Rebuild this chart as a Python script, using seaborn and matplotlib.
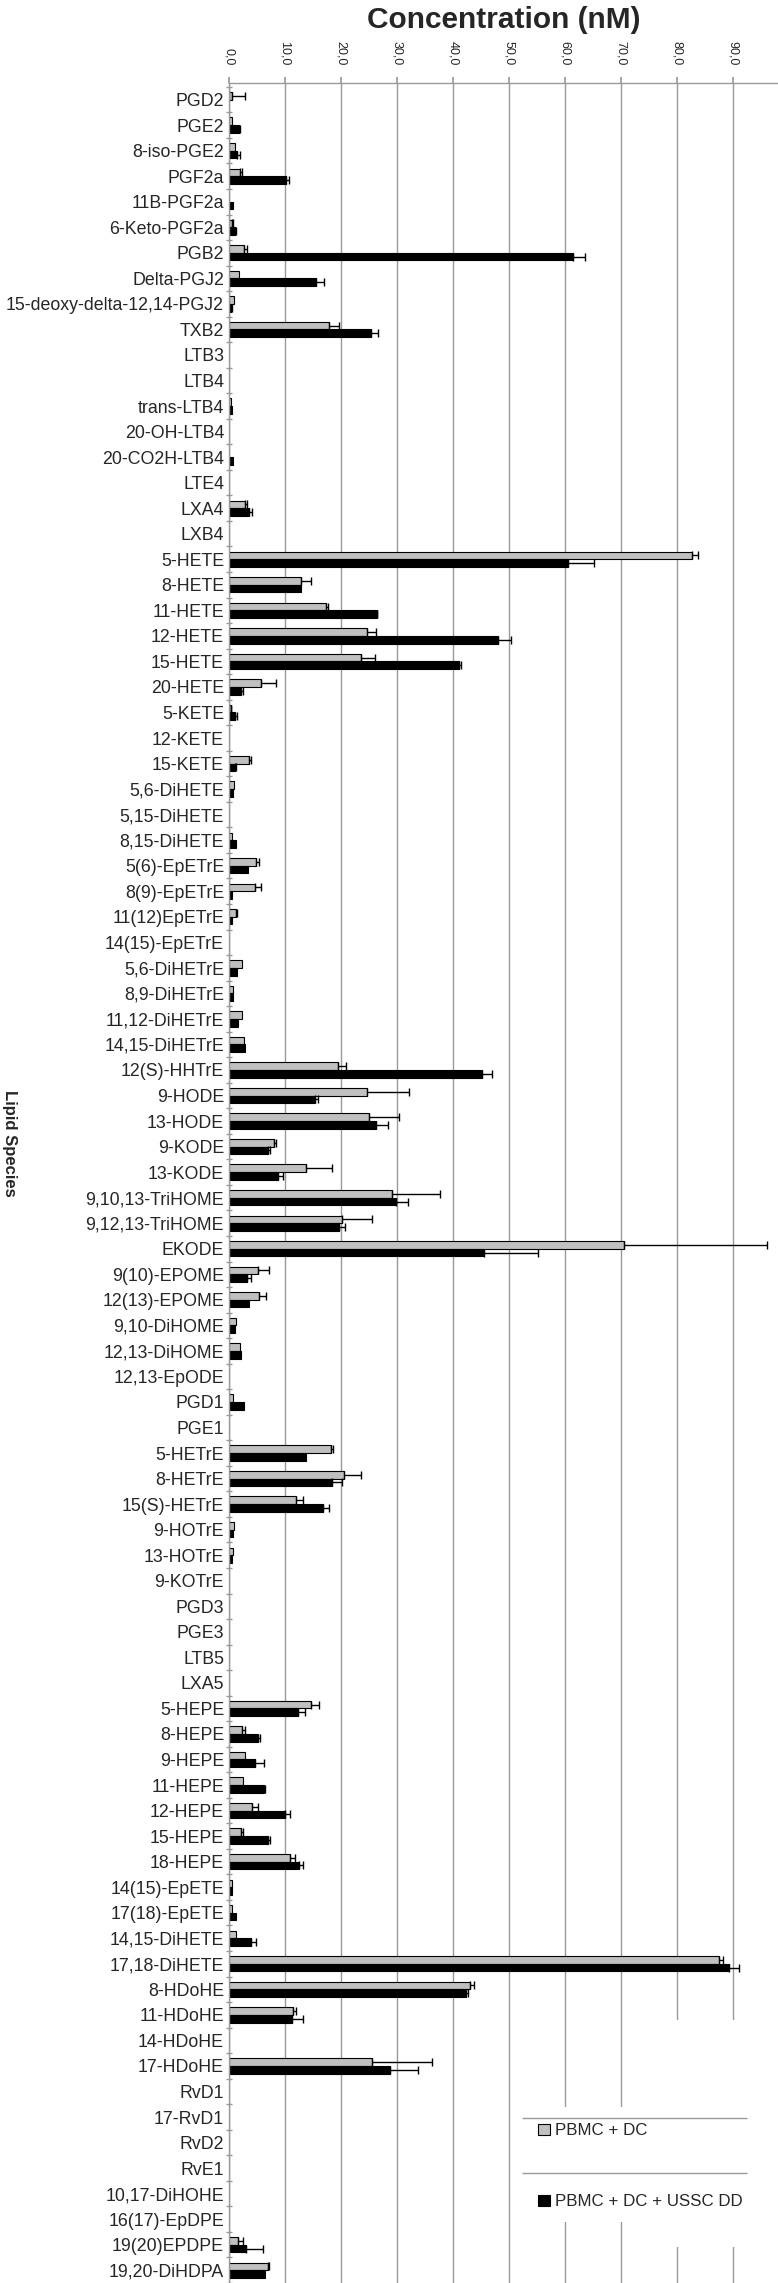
import numpy as np
import pandas as pd
import matplotlib
matplotlib.use("Agg")
import matplotlib.pyplot as plt
import seaborn as sns
from matplotlib.patches import Patch, Rectangle

species = [
    "PGD2", "PGE2", "8-iso-PGE2", "PGF2a", "11B-PGF2a", "6-Keto-PGF2a", "PGB2",
    "Delta-PGJ2", "15-deoxy-delta-12,14-PGJ2", "TXB2", "LTB3", "LTB4", "trans-LTB4",
    "20-OH-LTB4", "20-CO2H-LTB4", "LTE4", "LXA4", "LXB4", "5-HETE", "8-HETE",
    "11-HETE", "12-HETE", "15-HETE", "20-HETE", "5-KETE", "12-KETE", "15-KETE",
    "5,6-DiHETE", "5,15-DiHETE", "8,15-DiHETE", "5(6)-EpETrE", "8(9)-EpETrE",
    "11(12)EpETrE", "14(15)-EpETrE", "5,6-DiHETrE", "8,9-DiHETrE", "11,12-DiHETrE",
    "14,15-DiHETrE", "12(S)-HHTrE", "9-HODE", "13-HODE", "9-KODE", "13-KODE",
    "9,10,13-TriHOME", "9,12,13-TriHOME", "EKODE", "9(10)-EPOME", "12(13)-EPOME",
    "9,10-DiHOME", "12,13-DiHOME", "12,13-EpODE", "PGD1", "PGE1", "5-HETrE",
    "8-HETrE", "15(S)-HETrE", "9-HOTrE", "13-HOTrE", "9-KOTrE", "PGD3", "PGE3",
    "LTB5", "LXA5", "5-HEPE", "8-HEPE", "9-HEPE", "11-HEPE", "12-HEPE", "15-HEPE",
    "18-HEPE", "14(15)-EpETE", "17(18)-EpETE", "14,15-DiHETE", "17,18-DiHETE",
    "8-HDoHE", "11-HDoHE", "14-HDoHE", "17-HDoHE", "RvD1", "17-RvD1", "RvD2", "RvE1",
    "10,17-DiHOHE", "16(17)-EpDPE", "19(20)EPDPE", "19,20-DiHDPA",
]

# PBMC + DC (grey)
pbmc_dc = [
    0.5, 0.6, 1.0, 2.0, 0.0, 0.6, 2.6, 1.8, 0.9, 17.9,
    0.0, 0.0, 0.4, 0.0, 0.0, 0.0, 2.9, 0.0, 82.6, 12.8,
    17.4, 24.6, 23.6, 5.8, 0.3, 0.0, 3.5, 0.9, 0.0, 0.5,
    4.8, 4.6, 1.2, 0.0, 2.4, 0.7, 2.4, 2.6, 19.4, 24.6,
    25.0, 8.1, 13.8, 29.1, 20.2, 70.5, 5.1, 5.3, 1.3, 2.0,
    0.0, 0.7, 0.0, 18.3, 20.6, 12.0, 0.9, 0.7, 0.0, 0.0,
    0.0, 0.0, 0.0, 14.6, 2.3, 2.9, 2.5, 4.2, 2.1, 10.9,
    0.5, 0.6, 1.2, 87.4, 43.1, 11.4, 0.0, 25.6, 0.0, 0.0,
    0.0, 0.0, 0.0, 0.0, 1.6, 6.9,
]
pbmc_dc_err = [
    2.3, 0.0, 0.0, 0.3, 0.0, 0.2, 0.6, 0.0, 0.0, 1.8,
    0.0, 0.0, 0.0, 0.0, 0.0, 0.0, 0.4, 0.0, 1.2, 1.8,
    0.2, 1.6, 2.4, 2.6, 0.1, 0.0, 0.5, 0.0, 0.0, 0.0,
    0.5, 1.1, 0.3, 0.0, 0.0, 0.0, 0.0, 0.0, 1.5, 7.5,
    5.4, 0.3, 4.6, 8.5, 5.4, 25.6, 2.1, 1.3, 0.0, 0.0,
    0.0, 0.0, 0.0, 0.2, 2.9, 1.3, 0.0, 0.0, 0.0, 0.0,
    0.0, 0.0, 0.0, 1.4, 0.5, 0.0, 0.0, 0.9, 0.4, 0.8,
    0.0, 0.0, 0.0, 0.7, 0.6, 0.5, 0.0, 10.7, 0.0, 0.0,
    0.0, 0.0, 0.0, 0.0, 0.9, 0.2,
]
# PBMC + DC + USSC DD (black)
pbmc_dc_ussc = [
    0.0, 1.8, 1.4, 10.2, 0.8, 1.0, 61.4, 15.6, 0.4, 25.4,
    0.0, 0.0, 0.5, 0.0, 0.7, 0.0, 3.6, 0.0, 60.6, 12.9,
    26.4, 48.1, 41.0, 2.1, 1.0, 0.0, 1.0, 0.8, 0.0, 1.3,
    3.4, 0.5, 0.5, 0.0, 1.5, 0.8, 1.7, 2.8, 45.2, 15.4,
    26.3, 7.0, 8.8, 29.9, 19.6, 45.5, 3.3, 3.5, 1.0, 2.1,
    0.0, 2.6, 0.0, 13.8, 18.4, 16.7, 0.8, 0.5, 0.0, 0.0,
    0.0, 0.0, 0.0, 12.4, 5.1, 4.6, 6.2, 10.0, 7.0, 12.5,
    0.5, 1.2, 3.9, 89.2, 42.3, 11.2, 0.0, 28.8, 0.0, 0.0,
    0.0, 0.0, 0.0, 0.0, 3.0, 6.4,
]
pbmc_dc_ussc_err = [
    0.0, 0.2, 0.5, 0.5, 0.0, 0.2, 2.1, 1.3, 0.1, 1.2,
    0.0, 0.0, 0.0, 0.0, 0.0, 0.0, 0.5, 0.0, 4.5, 0.0,
    0.1, 2.3, 0.4, 0.4, 0.4, 0.0, 0.3, 0.0, 0.0, 0.0,
    0.0, 0.0, 0.0, 0.0, 0.0, 0.0, 0.0, 0.0, 1.7, 0.5,
    2.0, 0.4, 0.9, 2.1, 1.2, 9.6, 0.7, 0.0, 0.0, 0.0,
    0.0, 0.0, 0.0, 0.0, 1.8, 1.2, 0.0, 0.0, 0.0, 0.0,
    0.0, 0.0, 0.0, 1.2, 0.4, 1.6, 0.3, 0.9, 0.3, 0.8,
    0.0, 0.0, 0.9, 1.9, 0.4, 2.1, 0.0, 5.0, 0.0, 0.0,
    0.0, 0.0, 0.0, 0.0, 3.1, 0.0,
]

groups = ["PBMC + DC", "PBMC + DC + USSC DD"]
colors = ["#C0C0C0", "#000000"]
xticks = [0, 10, 20, 30, 40, 50, 60, 70, 80, 90]
xtick_labels = ["0,0", "10,0", "20,0", "30,0", "40,0", "50,0", "60,0", "70,0", "80,0", "90,0"]

n = len(species)
df = pd.DataFrame({
    "Species": species * 2,
    "Concentration": pbmc_dc + pbmc_dc_ussc,
    "Group": [groups[0]] * n + [groups[1]] * n,
})

sns.set_theme(style="white")
plt.rcParams["font.family"] = ["Liberation Sans", "DejaVu Sans"]
grid_col = "#999999"

fig = plt.figure(figsize=(7.78, 22.83), dpi=100)
ax = fig.add_axes([0.2943, 0.0, 0.7057, 0.9636])

sns.barplot(data=df, y="Species", x="Concentration", hue="Group", orient="h",
            palette=colors, width=0.6, edgecolor="black", linewidth=0.8,
            errorbar=None, legend=False, ax=ax)

# plus-only error bars, one set per group
for cont, errs in zip(ax.containers, [pbmc_dc_err, pbmc_dc_ussc_err]):
    ys, xs, es = [], [], []
    for bar, e in zip(cont, errs):
        if bar.get_width() == 0:
            bar.set_linewidth(0)
        if e > 0:
            ys.append(bar.get_y() + bar.get_height() / 2)
            xs.append(bar.get_width())
            es.append(e)
    ax.errorbar(xs, ys, xerr=[np.zeros(len(es)), es], fmt="none", ecolor="black",
                elinewidth=1.0, capsize=3, capthick=1.0, zorder=3)

ax.set_xlim(0, 98.0)
ax.set_ylim(n - 0.53, -0.646)

ax.xaxis.tick_top()
ax.xaxis.set_label_position("top")
ax.set_xticks(xticks)
ax.set_xticklabels(xtick_labels)
ax.tick_params(axis="x", top=True, bottom=False, length=4, color=grid_col,
               labelrotation=-90, labelsize=9, pad=9)
ax.set_xlabel("Concentration (nM)", fontsize=21.5, fontweight="bold", labelpad=9)

ax.set_yticks(np.arange(-0.5, n, 1), minor=True)
ax.tick_params(axis="y", which="major", length=0, labelsize=12.8, pad=3.5)
ax.tick_params(axis="y", which="minor", left=True, length=5, direction="inout", color=grid_col)
ax.set_ylabel("Lipid Species", rotation=-90, fontsize=12, fontweight="bold", va="center")
ax.yaxis.set_label_coords(-0.40, 0.518)

ax.xaxis.grid(True, color=grid_col, linewidth=1.0)
ax.yaxis.grid(False)
ax.set_axisbelow(True)
for side in ["right", "bottom"]:
    ax.spines[side].set_visible(False)
for side in ["top", "left"]:
    ax.spines[side].set_color(grid_col)
    ax.spines[side].set_linewidth(1.0)

# legend box area (white) that hides the gridlines behind it
ax.add_patch(Rectangle((75.5, 75.2), 17.5, 8.9, facecolor="white", edgecolor="none", zorder=0.8))
ax.add_patch(Rectangle((52.3, 78.6), 41.0, 4.5, facecolor="white", edgecolor="none", zorder=0.8))
ax.hlines([79.04, 81.19], 52.3, 92.5, color=grid_col, linewidth=1.0, zorder=4)

handles = [Patch(facecolor=c, edgecolor="black", linewidth=0.8) for c in colors]
ax.legend(handles, groups, loc="upper left", bbox_to_anchor=(0.562, 0.0727),
          frameon=False, fontsize=12.2, handlelength=0.72, handleheight=0.62,
          handletextpad=0.3, labelspacing=3.3, borderpad=0, borderaxespad=0)

fig.savefig("out.png", dpi=100)
